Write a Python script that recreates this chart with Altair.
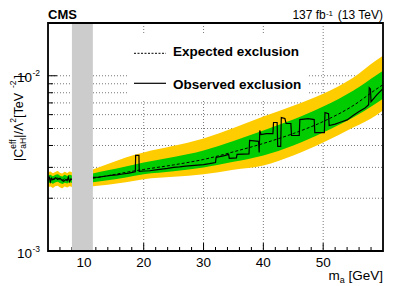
import altair as alt
import pandas as pd

# ---------------- data (limits in units of 1e-3 TeV^-2) ----------------
# low-mass window
m_left = [4.0, 4.4, 4.8, 5.2, 5.6, 6.0, 6.4, 6.8, 7.2, 7.6, 8.0]
exp_left = [2.56, 2.59, 2.55, 2.58, 2.61, 2.56, 2.54, 2.59, 2.55, 2.59, 2.57]
g_lo_left = [2.43, 2.46, 2.42, 2.46, 2.48, 2.44, 2.41, 2.45, 2.43, 2.47, 2.44]
g_hi_left = [2.69, 2.72, 2.67, 2.71, 2.74, 2.69, 2.66, 2.72, 2.68, 2.72, 2.70]
y_lo_left = [2.30, 2.33, 2.29, 2.34, 2.36, 2.31, 2.28, 2.33, 2.30, 2.34, 2.32]
y_hi_left = [2.80, 2.84, 2.78, 2.82, 2.86, 2.80, 2.77, 2.83, 2.79, 2.84, 2.81]
obs_left_m = [4.0, 4.2, 4.4, 4.6, 4.8, 5.0, 5.3, 5.6, 6.0, 6.3, 6.6, 7.0, 7.2, 7.4, 7.6, 7.8, 8.0]
obs_left_v = [2.52, 2.66, 2.48, 2.60, 2.55, 2.58, 2.62, 2.56, 2.60, 2.54, 2.50, 2.56, 2.52, 2.64, 2.49, 2.57, 2.55]

# high-mass window
m_right = [11.5, 14, 17, 20, 25, 30, 35, 40, 45, 50, 55, 59, 60]
exp_right = [2.60, 2.69, 2.81, 2.92, 3.10, 3.33, 3.68, 4.11, 4.68, 5.48, 6.75, 8.44, 8.89]
g_hi_right = [2.77, 2.89, 3.04, 3.20, 3.44, 3.75, 4.25, 4.87, 5.62, 6.67, 8.22, 10.13, 10.68]
g_lo_right = [2.47, 2.53, 2.63, 2.74, 2.85, 3.00, 3.23, 3.51, 4.00, 4.74, 5.77, 7.02, 7.40]
y_hi_right = [2.92, 3.14, 3.42, 3.65, 3.98, 4.39, 5.03, 5.85, 6.75, 7.90, 9.74, 12.33, 12.99]
y_lo_right = [2.34, 2.39, 2.47, 2.57, 2.65, 2.74, 2.91, 3.08, 3.51, 4.16, 5.06, 6.00, 6.33]
obs_right_m = [11.5, 12.5, 13.5, 14.5, 15.5, 16.5, 17.5, 18.6, 18.65, 19.2,
               19.25, 20, 21, 22, 23, 24, 25, 26, 27, 28,
               29, 30, 31, 32, 32.1, 33.5, 34.2, 34.3, 35.5, 35.6,
               37.6, 37.7, 39.2, 39.3, 39.4, 39.6, 40.5, 41.6, 41.7, 42.3,
               42.4, 42.9, 43.0, 43.6, 43.8, 44.6, 44.7, 46.0, 46.1, 47.5,
               48.5, 48.6, 50.2, 50.3, 50.9, 51.0, 52, 53, 54, 55,
               56, 57, 57.6, 57.7, 57.9, 58.0, 59, 60]
obs_right_v = [2.63, 2.64, 2.67, 2.70, 2.72, 2.75, 2.78, 2.83, 3.51, 3.51,
               2.85, 2.86, 2.87, 2.90, 2.93, 2.96, 3.00, 3.02, 3.05, 3.07,
               3.09, 3.11, 3.15, 3.20, 3.42, 3.50, 3.56, 3.38, 3.40, 3.56,
               3.58, 4.27, 4.22, 3.65, 4.87, 4.62, 4.68, 4.68, 5.41, 5.41,
               3.95, 3.95, 5.77, 5.70, 5.34, 5.34, 4.56, 4.56, 5.62, 5.70,
               5.62, 4.74, 4.74, 6.16, 6.08, 5.20, 5.30, 5.45, 5.60, 5.93,
               6.25, 6.55, 6.84, 8.55, 8.40, 7.12, 7.80, 8.44]

# excluded mass window
gap_lo = [8.0]
gap_hi = [11.5]

# axis ticks / grid / labels
x_major = [10, 20, 30, 40, 50]
x_major_labels = ["10", "20", "30", "40", "50"]
x_minor = [6, 8, 12, 14, 16, 18, 22, 24, 26, 28, 32, 34, 36, 38, 42, 44, 46, 48, 52, 54, 56, 58]
y_grid = [0.001, 0.002, 0.003, 0.004, 0.005, 0.006, 0.007, 0.008, 0.009, 0.01, 0.02]
y_major = [0.001, 0.01]
y_minor = [0.002, 0.003, 0.004, 0.005, 0.006, 0.007, 0.008, 0.009, 0.02]
y_label_vals = [0.01, 0.001]
y_label_exp = ["-2", "-3"]
legend_labels = ["Expected exclusion", "Observed exclusion"]

U = 1e-3
band = pd.DataFrame({
    "m": m_left + m_right,
    "seg": ["L"] * len(m_left) + ["R"] * len(m_right),
    "exp": [v * U for v in exp_left + exp_right],
    "g_lo": [v * U for v in g_lo_left + g_lo_right],
    "g_hi": [v * U for v in g_hi_left + g_hi_right],
    "y_lo": [v * U for v in y_lo_left + y_lo_right],
    "y_hi": [v * U for v in y_hi_left + y_hi_right],
})
obs = pd.DataFrame({
    "m": obs_left_m + obs_right_m,
    "seg": ["L"] * len(obs_left_m) + ["R"] * len(obs_right_m),
    "v": [v * U for v in obs_left_v + obs_right_v],
})
gap = pd.DataFrame({"lo": gap_lo, "hi": gap_hi})
xmaj = pd.DataFrame({"m": x_major, "lab": x_major_labels})
xmin = pd.DataFrame({"m": x_minor})
ygrid = pd.DataFrame({"v": y_grid})
ymaj = pd.DataFrame({"v": y_major})
ymin = pd.DataFrame({"v": y_minor})
ylab = pd.DataFrame({"v": y_label_vals, "sup": y_label_exp})
one = pd.DataFrame({"k": [0]})

W, H = 335, 228
FONT = "Liberation Sans"
GRID = "#555555"

xs = alt.Scale(domain=[4, 60], nice=False, zero=False)
ys = alt.Scale(type="log", domain=[0.001, 0.02], nice=False)


def X(f):
    return alt.X(f, scale=xs, axis=None)


def Y(f):
    return alt.Y(f, scale=ys, axis=None)


# grid
vgrid = alt.Chart(xmaj).mark_rule(color=GRID, strokeWidth=0.8, strokeDash=[1, 2]).encode(
    x=X("m:Q"), y=alt.value(0), y2=alt.value(H))
hgrid = alt.Chart(ygrid).mark_rule(color=GRID, strokeWidth=0.8, strokeDash=[1, 2]).encode(
    y=Y("v:Q"), x=alt.value(0), x2=alt.value(W))

yellow = alt.Chart(band).mark_area(color="#ffcc00", interpolate="monotone").encode(
    x=X("m:Q"), y=Y("y_lo:Q"), y2="y_hi:Q", detail="seg:N")
green = alt.Chart(band).mark_area(color="#00cc00", interpolate="monotone").encode(
    x=X("m:Q"), y=Y("g_lo:Q"), y2="g_hi:Q", detail="seg:N")
expected = alt.Chart(band).mark_line(color="black", strokeWidth=1, strokeDash=[3, 2],
                                     interpolate="monotone").encode(
    x=X("m:Q"), y=Y("exp:Q"), detail="seg:N")
observed = alt.Chart(obs).mark_line(color="black", strokeWidth=1.2).encode(
    x=X("m:Q"), y=Y("v:Q"), detail="seg:N")

# inward ticks
xt_major = alt.Chart(xmaj).mark_rule(color="black", strokeWidth=1).encode(
    x=X("m:Q"), y=alt.value(H), y2=alt.value(H - 8))
xt_minor = alt.Chart(xmin).mark_rule(color="black", strokeWidth=1).encode(
    x=X("m:Q"), y=alt.value(H), y2=alt.value(H - 4))
yt_major = alt.Chart(ymaj).mark_rule(color="black", strokeWidth=1).encode(
    y=Y("v:Q"), x=alt.value(0), x2=alt.value(9))
yt_minor = alt.Chart(ymin).mark_rule(color="black", strokeWidth=1).encode(
    y=Y("v:Q"), x=alt.value(0), x2=alt.value(5))

gray = alt.Chart(gap).mark_rect(color="#cccccc").encode(
    x=X("lo:Q"), x2="hi:Q", y=alt.value(0), y2=alt.value(H))

# tick labels
xlab = alt.Chart(xmaj).mark_text(align="center", baseline="alphabetic", fontSize=13.5,
                                 font=FONT, color="black").encode(
    x=X("m:Q"), y=alt.value(H + 15.5), text="lab:N")
ylab_base = alt.Chart(ylab).mark_text(text="10", align="right", baseline="alphabetic",
                                      fontSize=13.5, font=FONT, dy=6.5,
                                      color="black").encode(
    y=Y("v:Q"), x=alt.value(-16))
ylab_sup = alt.Chart(ylab).mark_text(align="right", baseline="alphabetic",
                                     fontSize=8.5, font=FONT, dy=0.5,
                                     color="black").encode(
    y=Y("v:Q"), x=alt.value(-8), text="sup:N")


def txt(s, x, y, size, bold=False, align="left", angle=0):
    kw = dict(text=s, fontSize=size, font=FONT, align=align, baseline="alphabetic",
              color="black")
    if bold:
        kw["fontWeight"] = "bold"
    if angle:
        kw["angle"] = angle
    return alt.Chart(one).mark_text(**kw).encode(x=alt.value(x), y=alt.value(y))


legend_box = alt.Chart(one).mark_rect(color="white").encode(
    x=alt.value(80), x2=alt.value(260), y=alt.value(12), y2=alt.value(76))
leg_exp = alt.Chart(one).mark_rule(color="black", strokeWidth=1, strokeDash=[2, 1.5]).encode(
    x=alt.value(86), x2=alt.value(118), y=alt.value(30.3))
leg_obs = alt.Chart(one).mark_rule(color="black", strokeWidth=1.2).encode(
    x=alt.value(86), x2=alt.value(118), y=alt.value(60.3))

texts = [
    txt("CMS", 0, -4.5, 13, bold=True),
    txt(" (13 TeV)", W, -4, 12, align="right"),
    txt("-1", 285, -7.5, 8, align="right"),
    txt("137 fb", 277.8, -4, 12, align="right"),
    txt(legend_labels[0], 125, 33, 13.5, bold=True),
    txt(legend_labels[1], 125, 66.3, 13.5, bold=True),
    # x title: m_a [GeV]
    txt(" [GeV]", W, 256.5, 13.5, align="right"),
    txt("a", 296.7, 259.5, 9, align="right"),
    txt("m", 291.7, 256.5, 13.5, align="right"),
    # y title: |C^eff_aH|/Λ^2 [TeV^-2]
    txt("|C", -25, 138, 12.5, angle=270),
    txt("eff", -32.5, 125.7, 8.5, angle=270),
    txt("aH", -22.5, 125.7, 8.5, angle=270),
    txt("|/Λ", -25, 114.8, 12.5, angle=270),
    txt("2", -32.5, 99.7, 8.5, angle=270),
    txt(" [TeV", -25, 95.0, 12.5, angle=270),
    txt("-2", -32.5, 65.1, 8.5, angle=270),
    txt("]", -25, 55.4, 12.5, angle=270),
]

frame = alt.Chart(one).mark_rect(filled=False, stroke="black", strokeWidth=1.8).encode(
    x=alt.value(0), x2=alt.value(W), y=alt.value(0), y2=alt.value(H))

chart = alt.layer(
    vgrid, hgrid,
    yellow, green, expected, observed,
    xt_major, xt_minor, yt_major, yt_minor,
    gray, legend_box, leg_exp, leg_obs,
    xlab, ylab_base, ylab_sup, *texts, frame,
).properties(
    width=W, height=H,
    autosize=alt.AutoSizeParams(type="none"),
    padding={"left": 40, "top": 15, "right": 8, "bottom": 34},
).configure_view(strokeWidth=0).configure(background="white")

chart.save("out.html", embed_options={"renderer": "svg", "actions": False})
